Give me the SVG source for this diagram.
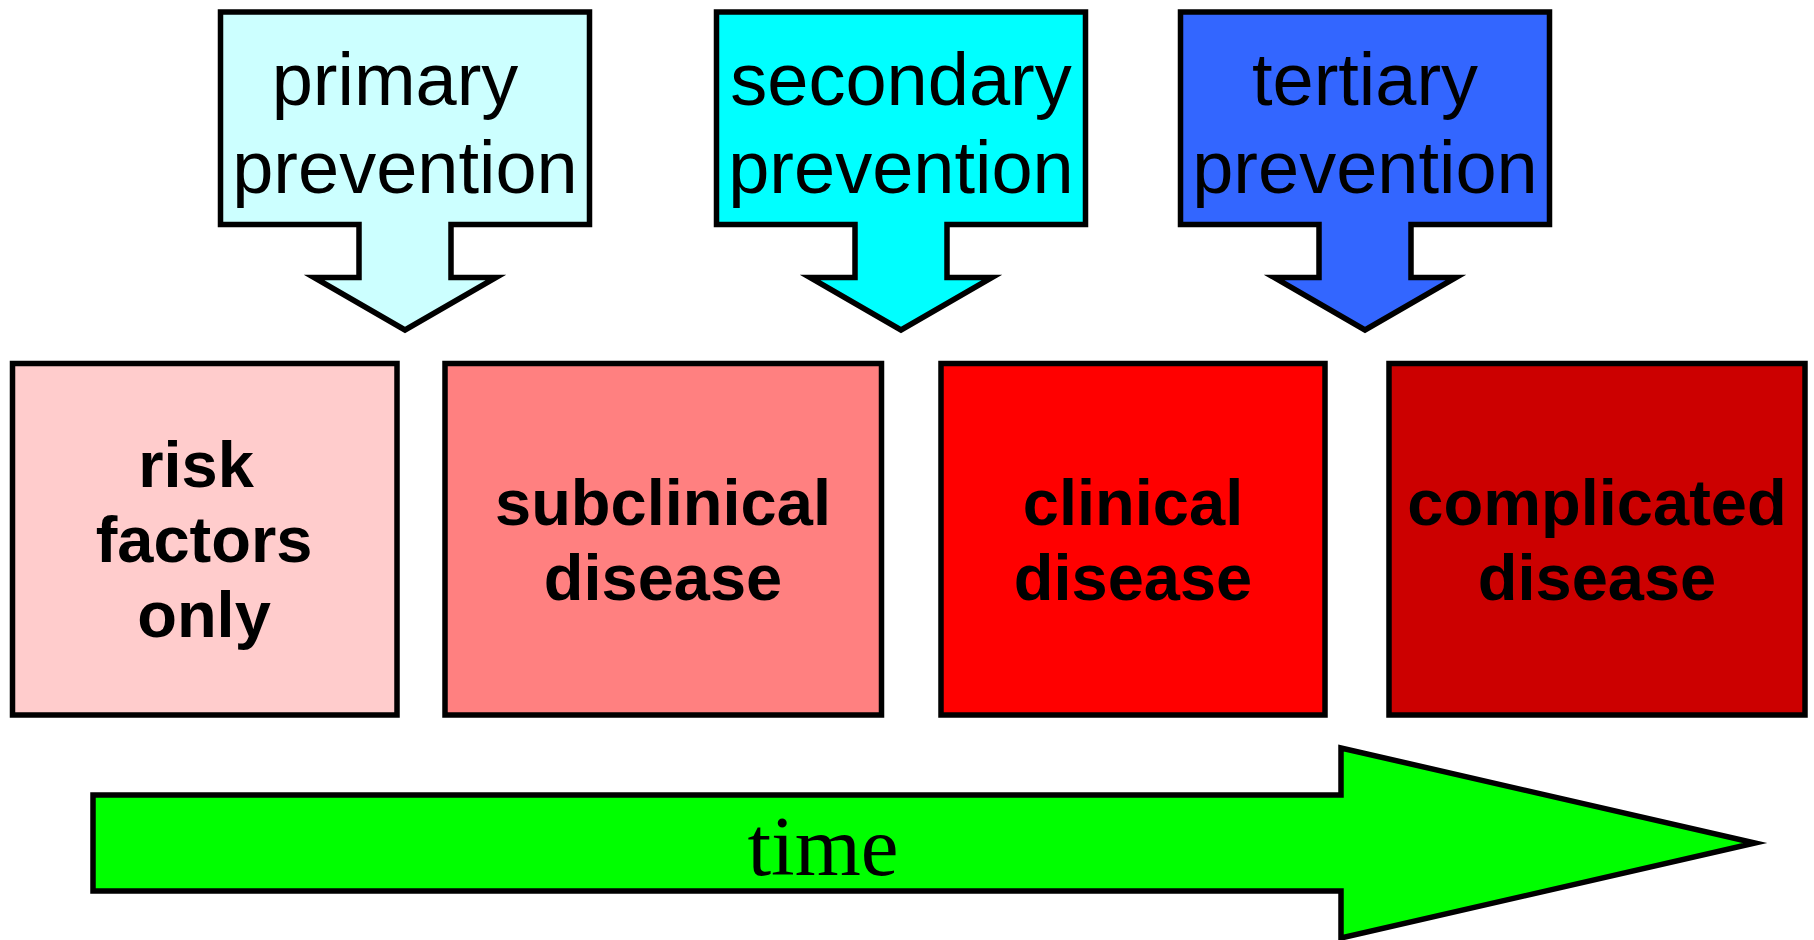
<svg xmlns="http://www.w3.org/2000/svg" width="1814" height="940" viewBox="0 0 1814 940">
<defs>
<style>
.shape{stroke:#000;stroke-width:5.5;stroke-miterlimit:12;stroke-linejoin:miter}
.prev{font-family:"Liberation Sans",Arial,sans-serif;font-size:74px;fill:#000;text-anchor:middle}
.stage{font-family:"Liberation Sans",Arial,sans-serif;font-size:65px;font-weight:bold;fill:#000;text-anchor:middle}
.time{font-family:"Liberation Serif","Times New Roman",serif;font-size:85px;fill:#000;text-anchor:middle}
</style>
<polygon id="downArrow" points="-184.5,12 184.5,12 184.5,224.5 46,224.5 46,277.5 91,277.5 0,330 -91,277.5 -46,277.5 -46,224.5 -184.5,224.5"/>
</defs>
<rect width="1814" height="940" fill="#fff"/>

<g id="primary-prevention">
<use href="#downArrow" x="405" class="shape" fill="#CCFFFF"/>
<text class="prev" x="395" y="105">primary</text>
<text class="prev" x="405" y="193">prevention</text>
</g>
<g id="secondary-prevention">
<use href="#downArrow" x="901" class="shape" fill="#00FFFF"/>
<text class="prev" x="901" y="105">secondary</text>
<text class="prev" x="901" y="193">prevention</text>
</g>
<g id="tertiary-prevention">
<use href="#downArrow" x="1365" class="shape" fill="#3366FF"/>
<text class="prev" x="1365" y="105">tertiary</text>
<text class="prev" x="1365" y="193">prevention</text>
</g>

<g id="risk-factors">
<rect class="shape" x="12.5" y="363.5" width="384.5" height="351.5" fill="#FFCCCC"/>
<text class="stage" x="196" y="487">risk</text>
<text class="stage" x="204" y="562">factors</text>
<text class="stage" x="204" y="637">only</text>
</g>
<g id="subclinical-disease">
<rect class="shape" x="445" y="363.5" width="436.5" height="351.5" fill="#FF8080"/>
<text class="stage" x="663" y="525">subclinical</text>
<text class="stage" x="663" y="600">disease</text>
</g>
<g id="clinical-disease">
<rect class="shape" x="941" y="363.5" width="384" height="351.5" fill="#FF0000"/>
<text class="stage" x="1133" y="525">clinical</text>
<text class="stage" x="1133" y="600">disease</text>
</g>
<g id="complicated-disease">
<rect class="shape" x="1389" y="363.5" width="416" height="351.5" fill="#CC0000"/>
<text class="stage" x="1597" y="525">complicated</text>
<text class="stage" x="1597" y="600">disease</text>
</g>

<g id="connectors">
<g id="time-arrow">
<polygon class="shape" fill="#00FF00" points="93,795 1341,795 1341,748 1755,843 1341,938 1341,891 93,891"/>
<text class="time" x="823" y="875">time</text>
</g>
</g>
</svg>
